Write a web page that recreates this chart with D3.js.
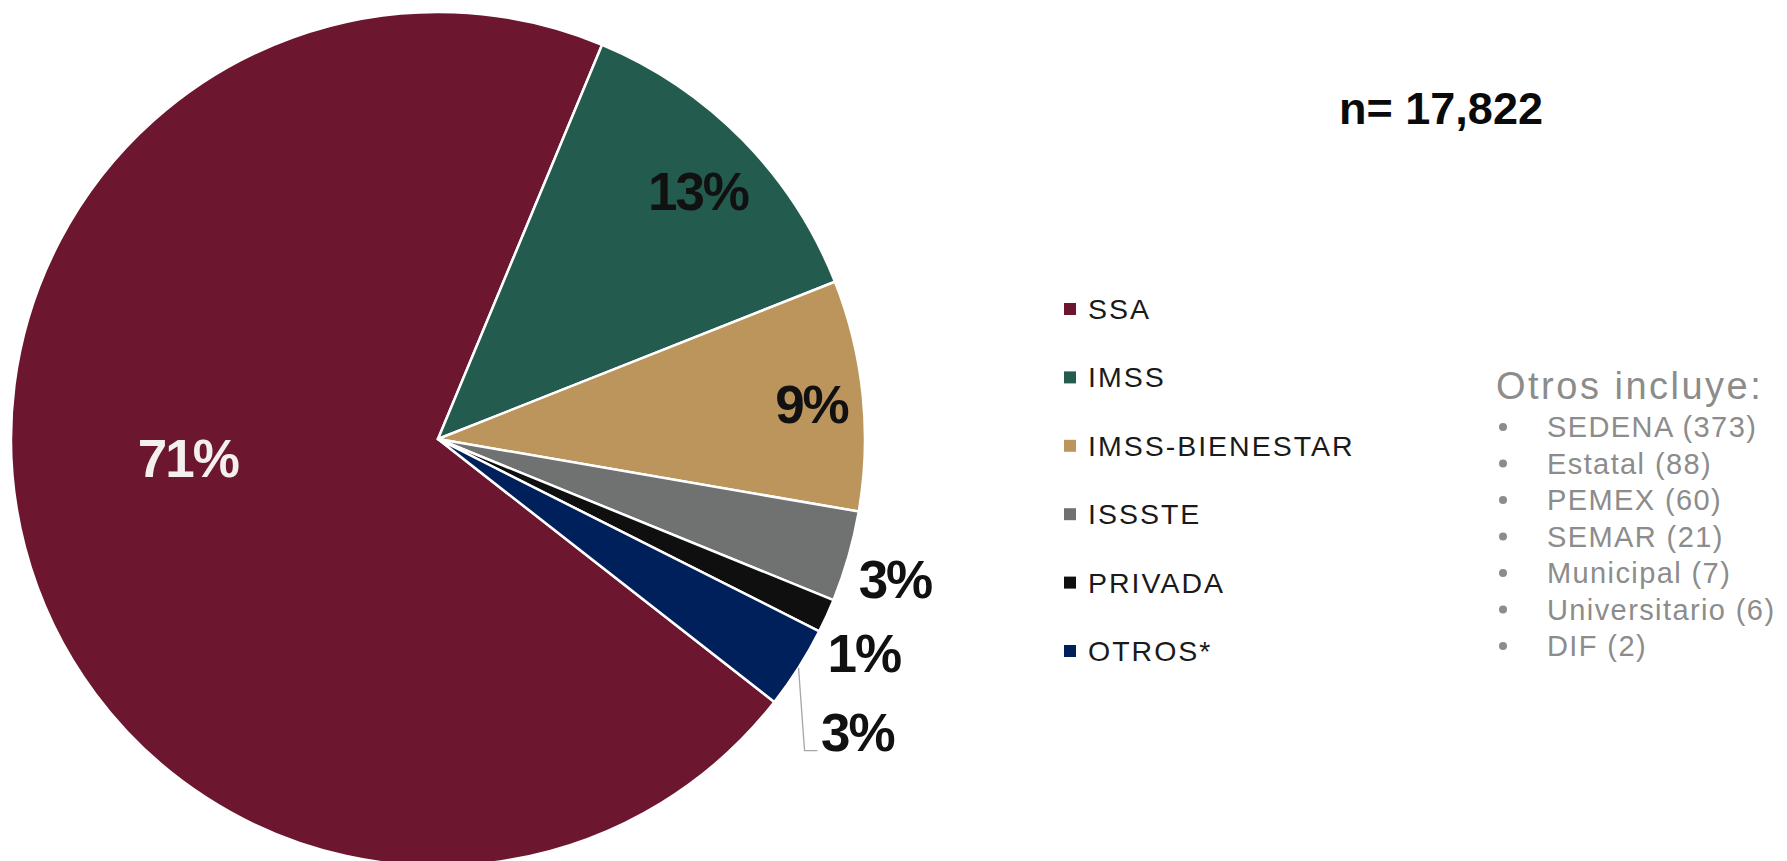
<!DOCTYPE html>
<html>
<head>
<meta charset="utf-8">
<script src="https://cdn.jsdelivr.net/npm/d3@7"></script>
<style>
  html, body { margin: 0; padding: 0; background: #ffffff; }
  svg { display: block; }
</style>
</head>
<body>
<svg id="chart" width="1787" height="861"></svg>
<script>
// ---- data ----
const categories = ["SSA", "IMSS", "IMSS-BIENESTAR", "ISSSTE", "PRIVADA", "OTROS*"];
const counts = [12603, 2267, 1554, 613, 228, 557];
const totalN = 17822;
const otrosNames = ["SEDENA", "Estatal", "PEMEX", "SEMAR", "Municipal", "Universitario", "DIF"];
const otrosCounts = [373, 88, 60, 21, 7, 6, 2];

// ---- styles ----
const colors = ["#6C172F", "#235B4E", "#BC955C", "#6F7271", "#0F0F0F", "#00205B"];
const labelColors = ["#F4F0F0", "#111111", "#111111", "#111111", "#111111", "#111111"];

const W = 1787, H = 861;
const cx = 438, cy = 439, R = 427;
const svg = d3.select("#chart");

const data = categories.map((c, i) => ({ name: c, value: counts[i] }));
const total = d3.sum(counts);

// orientation: boundary between SSA and IMSS at ~22.6 deg from 12 o'clock
const boundary = 22.6 * Math.PI / 180;
const start = boundary - (counts[0] / total) * 2 * Math.PI;
const pie = d3.pie().sort(null).value(d => d.value).startAngle(start).endAngle(start + 2 * Math.PI);
const arcs = pie(data);
const arc = d3.arc().innerRadius(0).outerRadius(R);

const g = svg.append("g").attr("transform", `translate(${cx},${cy})`);
g.selectAll("path.slice").data(arcs).enter().append("path")
  .attr("class", "slice")
  .attr("d", arc)
  .attr("fill", (d, i) => colors[i])
  .attr("stroke", "#ffffff")
  .attr("stroke-width", 2.5)
  .attr("stroke-linejoin", "round");

// label placement: [radius, angle offset in degrees from slice mid]
const labelPlace = [[251, 10.3], [359, 0.9], [375, 0.7], [478, 1.1], [477, 2.3], [512, 2.6]];
const fmt = v => Math.round(v / total * 100) + "%";
const lab = arcs.map((d, i) => {
  const mid = (d.startAngle + d.endAngle) / 2 + labelPlace[i][1] * Math.PI / 180;
  const r = labelPlace[i][0];
  return { d, i, x: Math.sin(mid) * r, y: -Math.cos(mid) * r };
});

g.selectAll("text.plabel").data(lab).enter().append("text")
  .attr("class", "plabel")
  .attr("x", d => d.x)
  .attr("y", d => d.y)
  .attr("text-anchor", "middle")
  .attr("dominant-baseline", "central")
  .attr("font-family", "'Liberation Sans', Arial, sans-serif")
  .attr("font-weight", "bold")
  .attr("font-size", 53)
  .attr("letter-spacing", -2)
  .attr("fill", d => labelColors[d.i])
  .text(d => fmt(d.d.value));

// leader line for OTROS
{
  const o = arcs[5];
  const mid = (o.startAngle + o.endAngle) / 2;
  const sx = Math.sin(mid) * R, sy = -Math.cos(mid) * R;
  const L = lab[5];
  const ex = L.x - 40;
  const ey = L.y + 18;
  g.append("path")
    .attr("d", `M${sx},${sy} L${sx + 6},${ey} L${ex},${ey}`)
    .attr("fill", "none")
    .attr("stroke", "#A6A6A6")
    .attr("stroke-width", 1.3);
}

// n label
svg.append("text")
  .attr("x", 1441).attr("y", 124)
  .attr("text-anchor", "middle")
  .attr("font-family", "'Liberation Sans', Arial, sans-serif")
  .attr("font-weight", "bold")
  .attr("font-size", 45)
  .attr("fill", "#0A0A0A")
  .text("n= " + d3.format(",")(totalN));

// legend
const legendY = d3.scalePoint().domain(categories).range([309, 651]);
const lg = svg.append("g");
const items = lg.selectAll("g").data(categories).enter().append("g")
  .attr("transform", d => `translate(1064,${legendY(d)})`);
items.append("rect")
  .attr("x", 0).attr("y", -6).attr("width", 12).attr("height", 12)
  .attr("fill", (d, i) => colors[i]);
items.append("text")
  .attr("x", 24).attr("y", 0)
  .attr("dominant-baseline", "central")
  .attr("font-family", "'Liberation Sans', Arial, sans-serif")
  .attr("font-size", 28.5)
  .attr("letter-spacing", 2)
  .attr("fill", "#1A1A1A")
  .text(d => d);

// Otros incluye
svg.append("text")
  .attr("x", 1496).attr("y", 399)
  .attr("font-family", "'Liberation Sans', Arial, sans-serif")
  .attr("font-size", 38)
  .attr("letter-spacing", 2.5)
  .attr("fill", "#8C8C8C")
  .text("Otros incluye:");

const listY = d3.scalePoint().domain(otrosNames).range([427, 646]);
const li = svg.append("g").selectAll("g").data(otrosNames).enter().append("g")
  .attr("transform", d => `translate(0,${listY(d)})`);
li.append("circle").attr("cx", 1503).attr("cy", 0).attr("r", 4).attr("fill", "#8C8C8C");
li.append("text")
  .attr("x", 1547).attr("y", 0)
  .attr("dominant-baseline", "central")
  .attr("font-family", "'Liberation Sans', Arial, sans-serif")
  .attr("font-size", 29)
  .attr("letter-spacing", 1.4)
  .attr("fill", "#8C8C8C")
  .text((d, i) => `${d} (${otrosCounts[i]})`);
</script>
</body>
</html>
